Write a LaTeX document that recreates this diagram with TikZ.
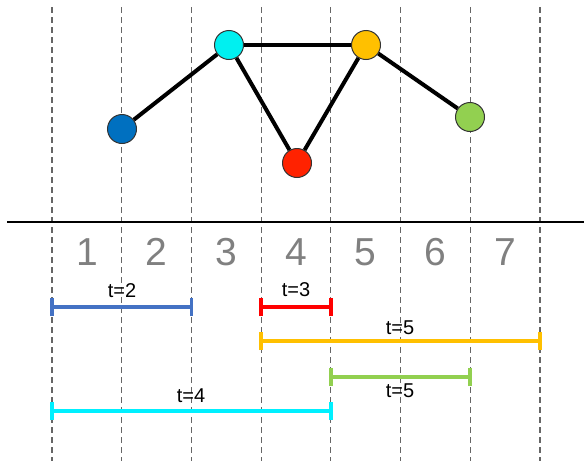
\documentclass[tikz,border=0pt]{standalone}
\usepackage{fontspec}
\setmainfont{Liberation Sans}
\definecolor{nblue}{RGB}{0,112,192}
\definecolor{ncyan}{RGB}{0,240,240}
\definecolor{nred}{RGB}{255,34,0}
\definecolor{nyellow}{RGB}{255,192,0}
\definecolor{ngreen}{RGB}{146,208,80}
\definecolor{iblue}{RGB}{68,114,196}
\definecolor{ired}{RGB}{255,0,0}
\definecolor{icyan}{RGB}{0,240,255}
\definecolor{numgray}{RGB}{128,128,128}
\tikzset{
  vert/.style={circle,draw=black!80,line width=1pt,minimum size=29pt,inner sep=0pt},
  edge/.style={line width=4pt,black},
  grid/.style={dash pattern=on 6pt off 4pt,line width=1.2pt,black!60},
  interval/.style={line width=3.5pt},
  num/.style={font=\fontsize{39}{39}\selectfont,text=numgray,inner sep=0pt},
  lab/.style={font=\fontsize{20}{20}\selectfont,inner sep=0pt}
}
\newcommand{\ivl}[3]{%
  \draw[interval,#1] (#2) -- (#3);
  \draw[interval,#1] ([yshift=-9pt]#2) -- ([yshift=9pt]#2);
  \draw[interval,#1] ([yshift=-9pt]#3) -- ([yshift=9pt]#3);
}
\begin{document}
\begin{tikzpicture}[x=1pt,y=-1pt]
\useasboundingbox (0,0) rectangle (584,461);
% grid lines
\foreach \i in {0,...,7} {
  \coordinate (gt\i) at ({52+69.7*\i},7);
  \coordinate (gb\i) at ({52+69.7*\i},461);
  \draw[grid] (gt\i) -- (gb\i);
}
% axis
\coordinate (axl) at (7,222);
\coordinate (axr) at (584,222);
\draw[line width=2.2pt] (axl) -- (axr);
% numbers
\foreach \i in {1,...,7} {
  \node[num] (n\i) at ({52+69.7*\i-34.85},252) {\i};
}
% graph
\node[vert,fill=nblue] (b) at (122,129) {};
\node[vert,fill=ncyan] (c) at (229,45) {};
\node[vert,fill=nred] (r) at (297,163) {};
\node[vert,fill=nyellow] (y) at (366,45) {};
\node[vert,fill=ngreen] (g) at (470,117) {};
\draw[edge] (b) -- (c);
\draw[edge] (c) -- (y);
\draw[edge] (c) -- (r);
\draw[edge] (r) -- (y);
\draw[edge] (y) -- (g);
% intervals
\coordinate (i1a) at (52,307); \coordinate (i1b) at (191.4,307);
\ivl{iblue}{i1a}{i1b}
\node[lab] (l1) at (122,291) {t=2};
\coordinate (i2a) at (261.1,307); \coordinate (i2b) at (330.8,307);
\ivl{ired}{i2a}{i2b}
\node[lab] (l2) at (296,290) {t=3};
\coordinate (i3a) at (261.1,341); \coordinate (i3b) at (539.9,341);
\ivl{nyellow}{i3a}{i3b}
\node[lab] (l3) at (400,328) {t=5};
\coordinate (i4a) at (330.8,377); \coordinate (i4b) at (470.2,377);
\ivl{ngreen}{i4a}{i4b}
\node[lab] (l4) at (400,391) {t=5};
\coordinate (i5a) at (52,411); \coordinate (i5b) at (330.8,411);
\ivl{icyan}{i5a}{i5b}
\node[lab] (l5) at (191,396) {t=4};
\end{tikzpicture}
\end{document}
